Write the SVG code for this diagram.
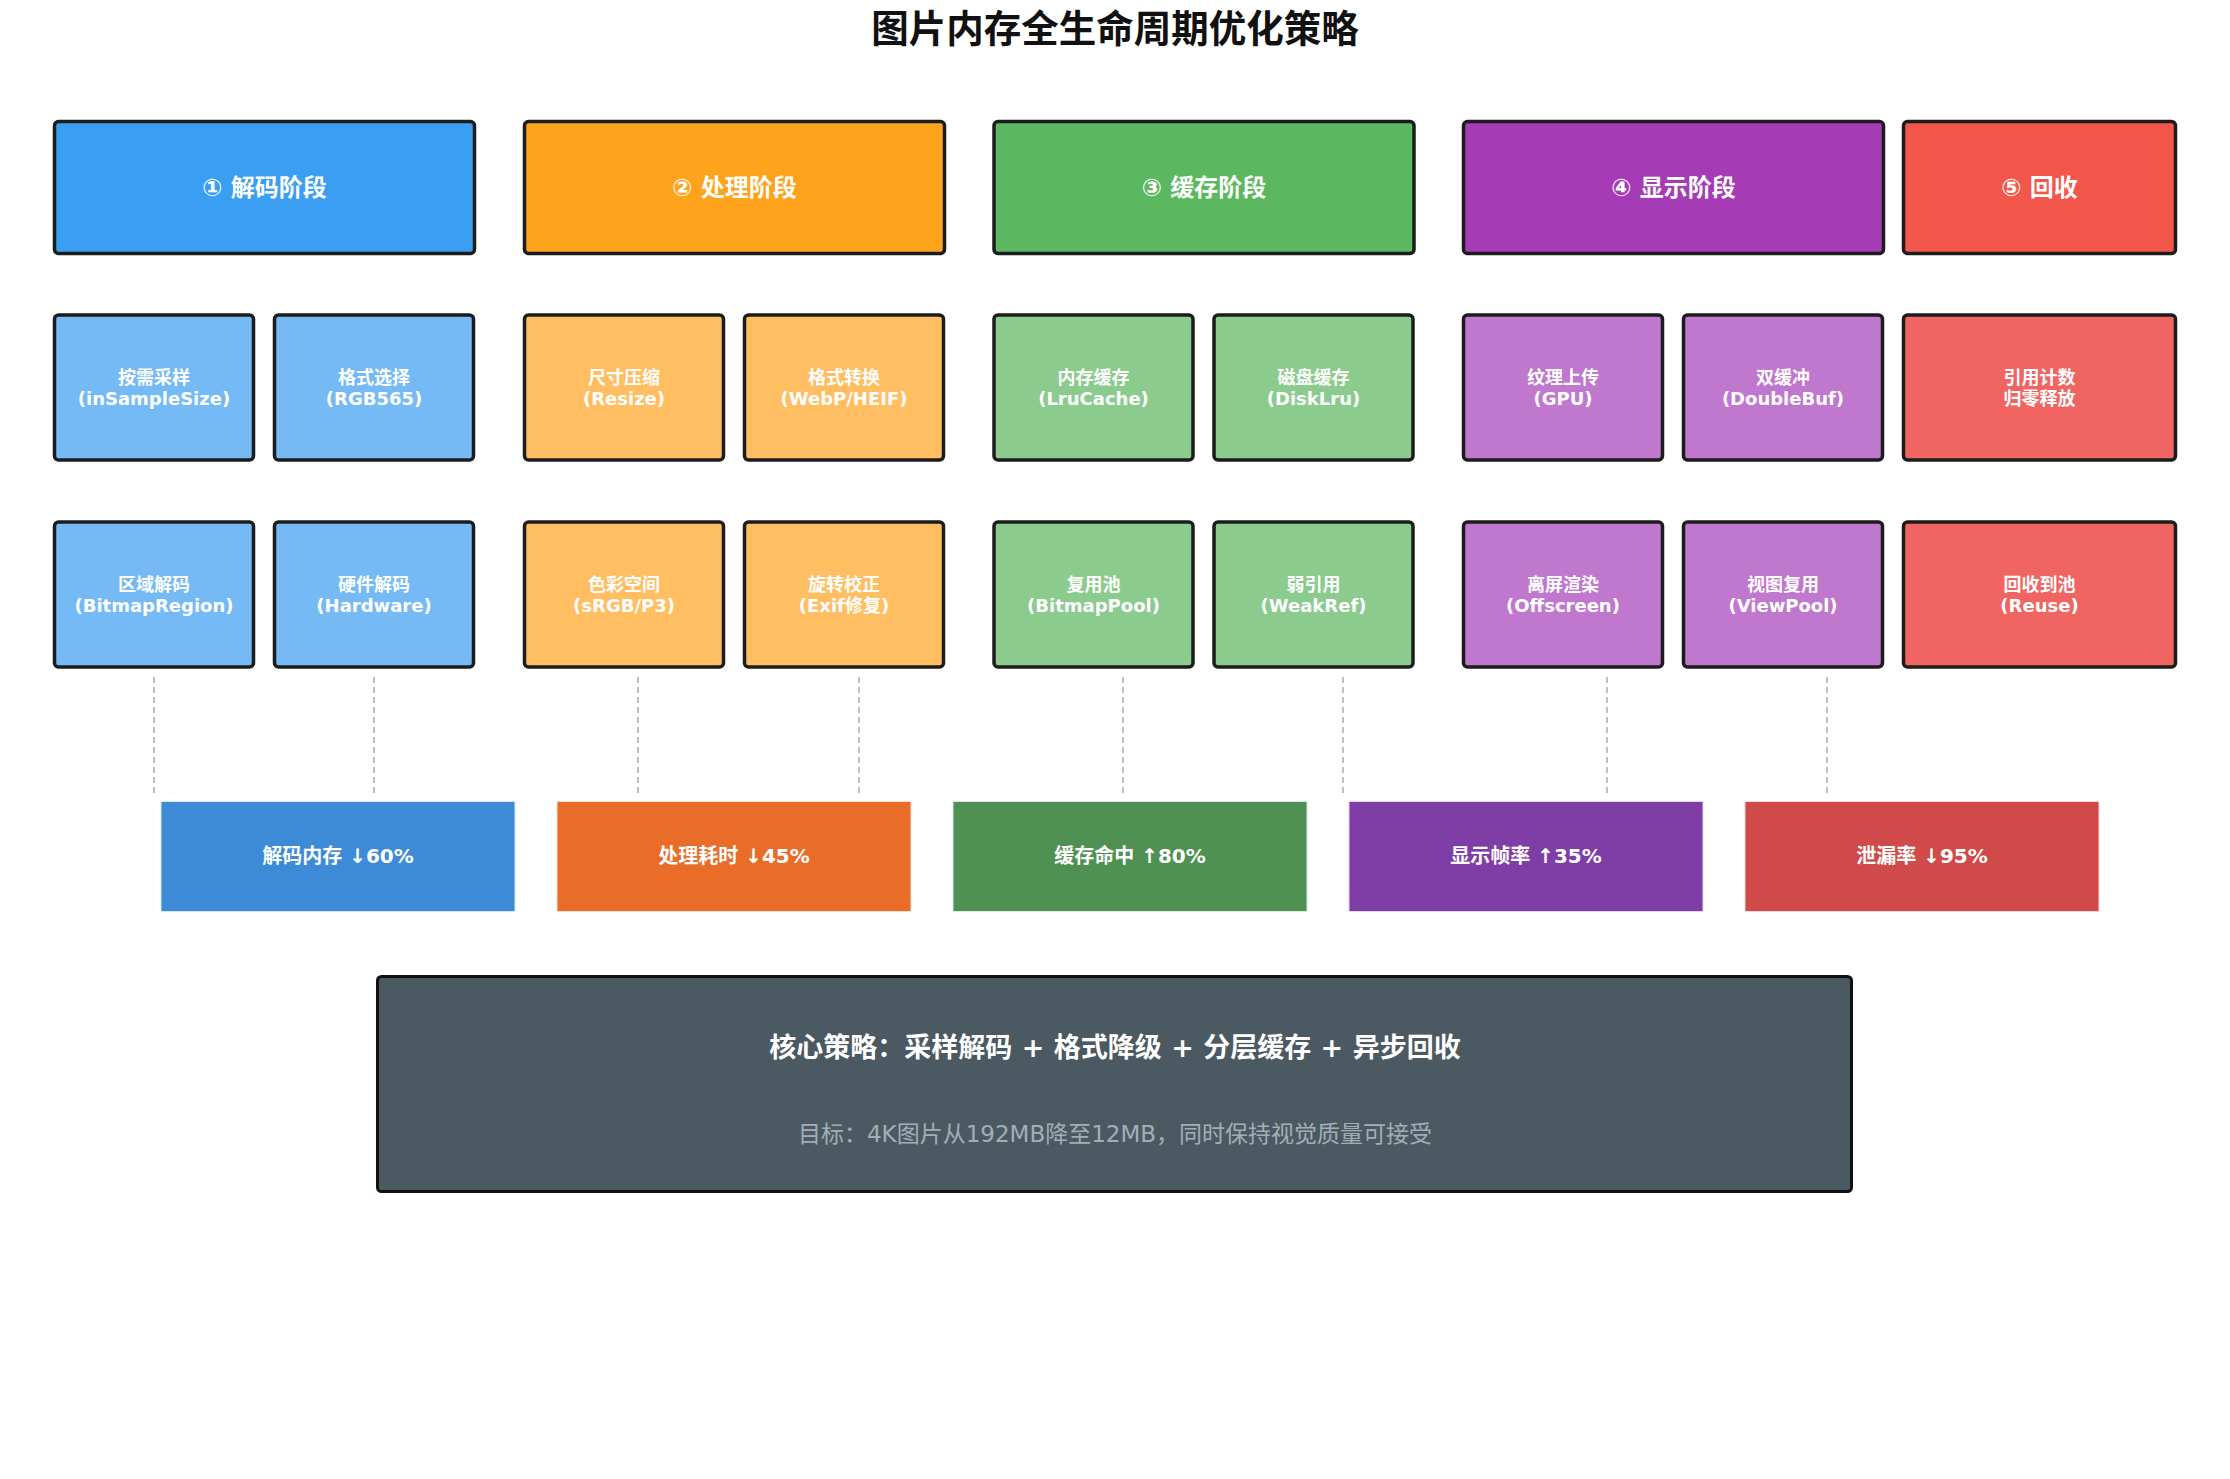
<svg xmlns="http://www.w3.org/2000/svg" width="2230" height="1479" viewBox="0 0 2230 1479">
<style>
.bx{stroke:#1c1c1c;stroke-width:3.5}
.mt{stroke:#ffffff;stroke-opacity:0.8;stroke-width:2}
.t{font-family:"DejaVu Sans","Noto Sans CJK SC",sans-serif;fill:#ffffff;font-weight:bold;text-anchor:middle}
.h{font-size:24px}
.s{font-size:18px}
.m{font-size:20px}
.dash{stroke:#aaaaaa;stroke-width:1.5;stroke-dasharray:6 4;fill:none}
</style>
<rect x="0" y="0" width="2230" height="1479" fill="#ffffff"/>
<text x="1115" y="42" font-family="'Noto Sans CJK SC',sans-serif" font-size="37.5" font-weight="bold" fill="#111111" text-anchor="middle">图片内存全生命周期优化策略</text>

<g id="connectors">
<line class="dash" x1="154" y1="677" x2="154" y2="795"/>
<line class="dash" x1="374" y1="677" x2="374" y2="795"/>
<line class="dash" x1="638" y1="677" x2="638" y2="795"/>
<line class="dash" x1="859" y1="677" x2="859" y2="795"/>
<line class="dash" x1="1123" y1="677" x2="1123" y2="795"/>
<line class="dash" x1="1343" y1="677" x2="1343" y2="795"/>
<line class="dash" x1="1607" y1="677" x2="1607" y2="795"/>
<line class="dash" x1="1827" y1="677" x2="1827" y2="795"/>
</g>

<g id="h1"><rect class="bx" x="54.5" y="121.5" width="420" height="132" rx="4" fill="#3A9FF2"/><text class="t h" x="264.5" y="196">① 解码阶段</text></g>
<g id="h2"><rect class="bx" x="524.5" y="121.5" width="420" height="132" rx="4" fill="#FFA31C"/><text class="t h" x="734.5" y="196">② 处理阶段</text></g>
<g id="h3"><rect class="bx" x="994" y="121.5" width="420" height="132" rx="4" fill="#5CB860"/><text class="t h" x="1204" y="196">③ 缓存阶段</text></g>
<g id="h4"><rect class="bx" x="1463.5" y="121.5" width="420" height="132" rx="4" fill="#A53CB5"/><text class="t h" x="1673.5" y="196">④ 显示阶段</text></g>
<g id="h5"><rect class="bx" x="1903.5" y="121.5" width="272" height="132" rx="4" fill="#F3564A"/><text class="t h" x="2039.5" y="196">⑤ 回收</text></g>

<g id="s1a"><rect class="bx" x="54.5" y="315" width="199" height="145" rx="4" fill="#75BAF5"/><text class="t s" x="154" y="384">按需采样</text><text class="t s" x="154" y="405">(inSampleSize)</text></g>
<g id="s1b"><rect class="bx" x="274.5" y="315" width="199" height="145" rx="4" fill="#75BAF5"/><text class="t s" x="374" y="384">格式选择</text><text class="t s" x="374" y="405">(RGB565)</text></g>
<g id="s2a"><rect class="bx" x="524.5" y="315" width="199" height="145" rx="4" fill="#FFBE62"/><text class="t s" x="624" y="384">尺寸压缩</text><text class="t s" x="624" y="405">(Resize)</text></g>
<g id="s2b"><rect class="bx" x="744.5" y="315" width="199" height="145" rx="4" fill="#FFBE62"/><text class="t s" x="844" y="384">格式转换</text><text class="t s" x="844" y="405">(WebP/HEIF)</text></g>
<g id="s3a"><rect class="bx" x="994" y="315" width="199" height="145" rx="4" fill="#8BCB8E"/><text class="t s" x="1093.5" y="384">内存缓存</text><text class="t s" x="1093.5" y="405">(LruCache)</text></g>
<g id="s3b"><rect class="bx" x="1214" y="315" width="199" height="145" rx="4" fill="#8BCB8E"/><text class="t s" x="1313.5" y="384">磁盘缓存</text><text class="t s" x="1313.5" y="405">(DiskLru)</text></g>
<g id="s4a"><rect class="bx" x="1463.5" y="315" width="199" height="145" rx="4" fill="#C077CE"/><text class="t s" x="1563" y="384">纹理上传</text><text class="t s" x="1563" y="405">(GPU)</text></g>
<g id="s4b"><rect class="bx" x="1683.5" y="315" width="199" height="145" rx="4" fill="#C077CE"/><text class="t s" x="1783" y="384">双缓冲</text><text class="t s" x="1783" y="405">(DoubleBuf)</text></g>
<g id="s5a"><rect class="bx" x="1903.5" y="315" width="272" height="145" rx="4" fill="#F06562"/><text class="t s" x="2039.5" y="384">引用计数</text><text class="t s" x="2039.5" y="405">归零释放</text></g>

<g id="r1a"><rect class="bx" x="54.5" y="522" width="199" height="145" rx="4" fill="#75BAF5"/><text class="t s" x="154" y="591">区域解码</text><text class="t s" x="154" y="612">(BitmapRegion)</text></g>
<g id="r1b"><rect class="bx" x="274.5" y="522" width="199" height="145" rx="4" fill="#75BAF5"/><text class="t s" x="374" y="591">硬件解码</text><text class="t s" x="374" y="612">(Hardware)</text></g>
<g id="r2a"><rect class="bx" x="524.5" y="522" width="199" height="145" rx="4" fill="#FFBE62"/><text class="t s" x="624" y="591">色彩空间</text><text class="t s" x="624" y="612">(sRGB/P3)</text></g>
<g id="r2b"><rect class="bx" x="744.5" y="522" width="199" height="145" rx="4" fill="#FFBE62"/><text class="t s" x="844" y="591">旋转校正</text><text class="t s" x="844" y="612">(Exif修复)</text></g>
<g id="r3a"><rect class="bx" x="994" y="522" width="199" height="145" rx="4" fill="#8BCB8E"/><text class="t s" x="1093.5" y="591">复用池</text><text class="t s" x="1093.5" y="612">(BitmapPool)</text></g>
<g id="r3b"><rect class="bx" x="1214" y="522" width="199" height="145" rx="4" fill="#8BCB8E"/><text class="t s" x="1313.5" y="591">弱引用</text><text class="t s" x="1313.5" y="612">(WeakRef)</text></g>
<g id="r4a"><rect class="bx" x="1463.5" y="522" width="199" height="145" rx="4" fill="#C077CE"/><text class="t s" x="1563" y="591">离屏渲染</text><text class="t s" x="1563" y="612">(Offscreen)</text></g>
<g id="r4b"><rect class="bx" x="1683.5" y="522" width="199" height="145" rx="4" fill="#C077CE"/><text class="t s" x="1783" y="591">视图复用</text><text class="t s" x="1783" y="612">(ViewPool)</text></g>
<g id="r5a"><rect class="bx" x="1903.5" y="522" width="272" height="145" rx="4" fill="#F06562"/><text class="t s" x="2039.5" y="591">回收到池</text><text class="t s" x="2039.5" y="612">(Reuse)</text></g>

<g id="m1"><rect class="mt" x="160.5" y="801" width="355" height="111" fill="#3D8BD7"/><text class="t m" x="338" y="863">解码内存 ↓60%</text></g>
<g id="m2"><rect class="mt" x="556.5" y="801" width="355" height="111" fill="#E96C28"/><text class="t m" x="734" y="863">处理耗时 ↓45%</text></g>
<g id="m3"><rect class="mt" x="952.5" y="801" width="355" height="111" fill="#4E9152"/><text class="t m" x="1130" y="863">缓存命中 ↑80%</text></g>
<g id="m4"><rect class="mt" x="1348.5" y="801" width="355" height="111" fill="#7F3DA6"/><text class="t m" x="1526" y="863">显示帧率 ↑35%</text></g>
<g id="m5"><rect class="mt" x="1744.5" y="801" width="355" height="111" fill="#CF4A48"/><text class="t m" x="1922" y="863">泄漏率 ↓95%</text></g>

<g id="core">
<rect x="377.5" y="976.5" width="1474" height="215" rx="4" fill="#4B5A62" stroke="#111111" stroke-width="3"/>
<text class="t" x="1115" y="1057" font-size="27">核心策略：采样解码 + 格式降级 + 分层缓存 + 异步回收</text>
<text x="1115" y="1142" font-family="'DejaVu Sans','Noto Sans CJK SC',sans-serif" font-size="23" fill="#A3AEB4" text-anchor="middle">目标：4K图片从192MB降至12MB，同时保持视觉质量可接受</text>
</g>
</svg>
